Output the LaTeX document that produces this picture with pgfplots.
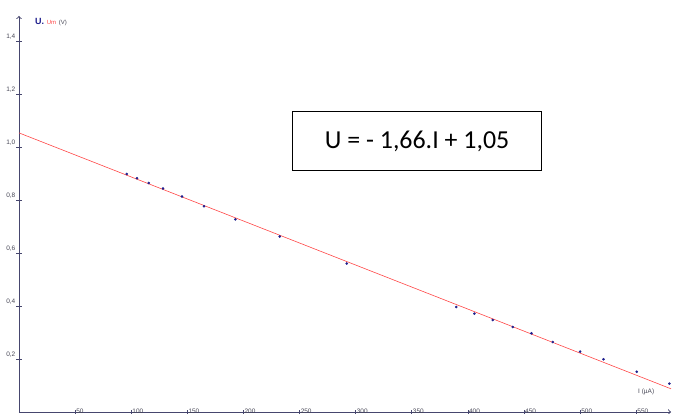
\documentclass[border=0pt]{standalone}
\usepackage{fontspec}
\setmainfont{Liberation Sans}
\newfontfamily\calibri{Carlito}
\usepackage{pgfplots}
\pgfplotsset{compat=1.18}
\definecolor{axiscol}{RGB}{70,70,110}
\definecolor{ptcol}{RGB}{30,30,140}
\definecolor{fitcol}{RGB}{255,70,70}
\definecolor{lblcol}{RGB}{70,70,85}
\begin{document}
\begin{tikzpicture}
\begin{axis}[
  width=652bp, height=396bp, scale only axis,
  xmin=0, xmax=581, ymin=0, ymax=1.494,
  axis x line=bottom, axis y line=left,
  axis line style={draw=axiscol, line width=1pt, ->},
  xtick={50,100,150,200,250,300,350,400,450,500,550},
  ytick={0.2,0.4,0.6,0.8,1.0,1.2,1.4},
  tick align=center, major tick length=5bp,
  tick style={draw=axiscol, line width=0.7pt},
  /pgf/number format/assume math mode=true,
  every tick label/.append style={font=\fontsize{6.5}{7}\selectfont, text=lblcol, inner sep=1bp},
  xticklabel style={anchor=south west},
  yticklabel style={anchor=south east},
  yticklabel={\pgfmathprintnumber[fixed, fixed zerofill, precision=1, use comma, assume math mode=true]{\tick}},
  clip=false,
]
\addplot[fitcol, line width=0.6pt] coordinates {(0,1.053) (581,0.0875)};
\addplot[only marks, mark=*, mark size=1.1bp, ptcol] coordinates {
(96.0,0.898) (105.2,0.882) (115.6,0.864) (128.3,0.843) (145.3,0.813)
(164.9,0.776) (192.8,0.727) (232.4,0.662) (292.1,0.560)
(389.7,0.396) (405.8,0.371) (422.2,0.347) (440.0,0.321) (456.6,0.297)
(475.7,0.264) (500.0,0.228) (520.8,0.199) (550.5,0.152) (579.6,0.107)
};
\node[draw=black, line width=1.2pt, minimum width=249bp, minimum height=59bp, inner sep=0, font=\calibri\fontsize{26}{30}\selectfont] at (axis cs:354.7,1.0226) {U = - 1,66.I + 1,05};
\end{axis}
\node[anchor=west, inner sep=0] at ([shift={(16bp,-6bp)}]current axis.north west)
  {{\fontsize{9}{10}\selectfont\bfseries\color{ptcol}U.} {\fontsize{6}{7}\selectfont\color{fitcol}Um} {\fontsize{6}{7}\selectfont\color{lblcol}(V)}};
\node[anchor=west, inner sep=0, font=\fontsize{6.5}{7}\selectfont, text=lblcol] at ([shift={(-33bp,20bp)}]current axis.south east) {I (µA)};
\pgfresetboundingbox
\path ([shift={(-19bp,-2bp)}]current axis.south west) rectangle ([shift={(11bp,16bp)}]current axis.north east);
\end{tikzpicture}
\end{document}
